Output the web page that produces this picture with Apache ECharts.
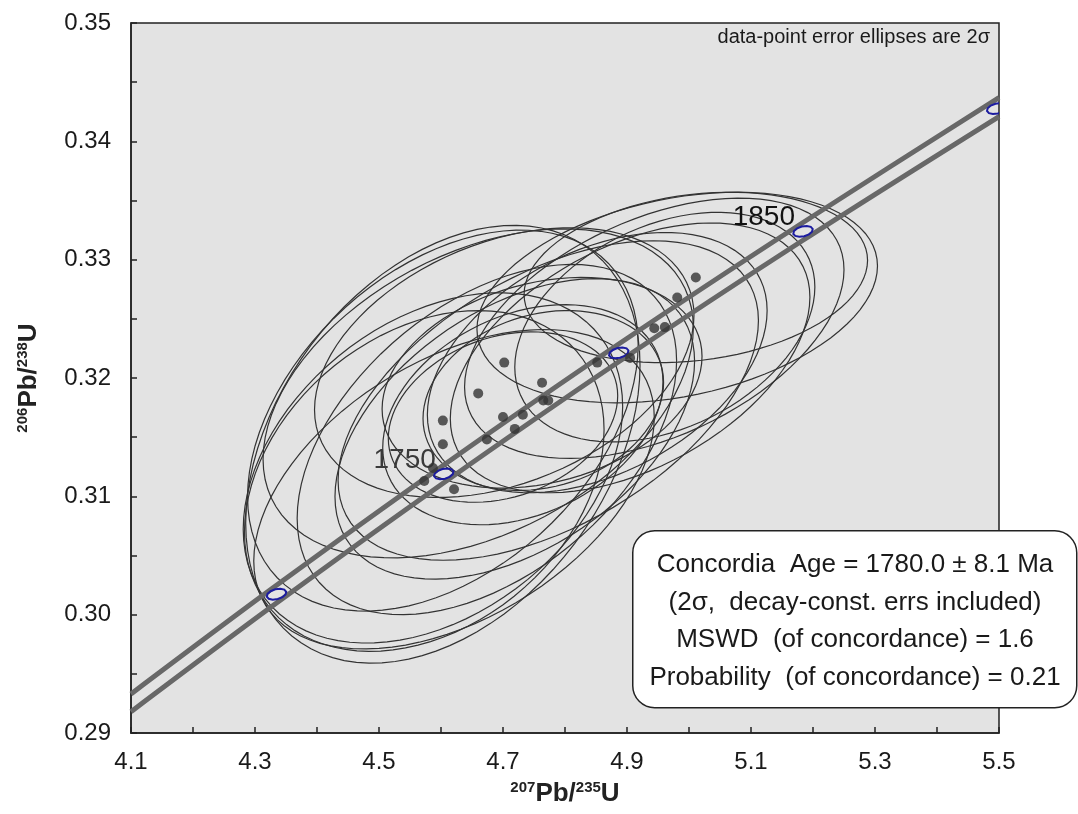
<!DOCTYPE html>
<html><head><meta charset="utf-8">
<script src="https://cdn.jsdelivr.net/npm/echarts@6/dist/echarts.min.js"></script>
<style>html,body{margin:0;padding:0;background:#fff}#c{width:1078px;height:814px}</style>
</head><body><div id="c"></div>
<script>
// Data-point centres (207Pb/235U, 206Pb/238U)
const dotX = [4.702,4.660,4.603,4.603,4.587,4.573,4.621,4.674,4.700,4.719,4.732,4.763,4.765,4.773,4.852,4.905,4.944,4.961,4.981,5.011];
const dotY = [0.3213,0.3187,0.3164,0.3144,0.3124,0.3113,0.3106,0.3148,0.3167,0.3157,0.3169,0.3196,0.3181,0.3181,0.3213,0.3217,0.3242,0.3243,0.3268,0.3285];
// 2-sigma errors and error correlation
const errX = [0.306,0.347,0.315,0.318,0.306,0.290,0.323,0.306,0.185,0.290,0.226,0.258,0.194,0.339,0.274,0.290,0.306,0.242,0.323,0.277];
const errY = [0.0114,0.0139,0.0161,0.0185,0.0148,0.0144,0.0135,0.0148,0.0072,0.0127,0.0093,0.0089,0.0076,0.0135,0.0110,0.0114,0.0110,0.0097,0.0089,0.0072];
const rho  = [0.35,0.40,0.40,0.36,0.35,0.30,0.45,0.45,0.25,0.45,0.30,0.25,0.20,0.50,0.40,0.45,0.45,0.35,0.30,0.20];
// Concordia age markers
const ageLabels = [1700,1750,1800,1850,1900];
const ageX = [4.3347,4.6045,4.8867,5.1839,5.4963];
const ageY = [0.30173,0.3119,0.32212,0.33239,0.34277];
const labelledAges = [1750,1850];
// Concordia band (decay-constant error envelope)
const bandX = [4.1,4.3347,4.6045,4.8867,5.1839,5.5];
const bandUpperY = [0.2933,0.30248,0.31265,0.32287,0.33314,0.34369];
const bandLowerY = [0.2918,0.30098,0.31115,0.32137,0.33164,0.34209];
// Axis ticks
const xMin = 4.1, xMax = 5.5, xStep = 0.1;
const yMin = 0.29, yMax = 0.35, yStep = 0.005;
const statsLines = [
  'Concordia  Age = 1780.0 \u00B1 8.1 Ma',
  '(2\u03C3,  decay-const. errs included)',
  'MSWD  (of concordance) = 1.6',
  'Probability  (of concordance) = 0.21'
];
const noteText = 'data-point error ellipses are 2\u03C3';

const FONT = '"Liberation Sans", Arial, sans-serif';
const chart = echarts.init(document.getElementById('c'), null, {renderer:'canvas'});

const ellipseData = dotX.map((x,i)=>[x,dotY[i],errX[i],errY[i],rho[i]]);
const bandUpper = bandX.map((x,i)=>[x,bandUpperY[i]]);
const bandLower = bandX.map((x,i)=>[x,bandLowerY[i]]);
const ages = ageX.map((x,i)=>[x,ageY[i],ageLabels[i]]);

const axisLabelStyle = {color:'#1a1a1a', fontSize:24, fontFamily:FONT};
const nameRich = {
  sup:{fontSize:15, fontWeight:'bold', fontFamily:FONT, color:'#222', verticalAlign:'top', lineHeight:28},
  main:{fontSize:26, fontWeight:'bold', fontFamily:FONT, color:'#222', lineHeight:28}
};

chart.setOption({
  animation:false,
  grid:{left:131, right:79, top:23, bottom:81, show:true, backgroundColor:'#e3e3e3', borderColor:'#222', borderWidth:1.5},
  xAxis:{type:'value', min:xMin, max:xMax, interval:xStep,
    axisLine:{show:true, lineStyle:{color:'#222', width:1.5}},
    axisTick:{show:true, inside:true, length:6, lineStyle:{color:'#222', width:1.5}},
    splitLine:{show:false},
    axisLabel:{...axisLabelStyle, margin:17, formatter:v=>{const k=Math.round(v*10); return k%2===1? v.toFixed(1):'';}},
    name:'{sup|207}{main|Pb/}{sup|235}{main|U}', nameLocation:'middle', nameGap:47,
    nameTextStyle:{rich:nameRich}
  },
  yAxis:{type:'value', min:yMin, max:yMax, interval:yStep,
    axisLine:{show:true, lineStyle:{color:'#222', width:1.5}},
    axisTick:{show:true, inside:true, length:6, lineStyle:{color:'#222', width:1.5}},
    splitLine:{show:false},
    axisLabel:{...axisLabelStyle, margin:20, formatter:v=>{const k=Math.round(v*1000); return k%10===0? v.toFixed(2):'';}},
    name:'{sup|206}{main|Pb/}{sup|238}{main|U}', nameLocation:'middle', nameGap:88, nameRotate:90,
    nameTextStyle:{rich:nameRich}
  },
  series:[
    {type:'custom', name:'ellipses', clip:true, data:ellipseData, z:2,
      renderItem:(params, api)=>{
        const x0=api.value(0), y0=api.value(1), sx=api.value(2), sy=api.value(3), r=api.value(4);
        const pts=[]; const n=90; const q=Math.sqrt(1-r*r);
        for(let k=0;k<n;k++){const t=2*Math.PI*k/n;
          pts.push(api.coord([x0+sx*Math.cos(t), y0+sy*(r*Math.cos(t)+q*Math.sin(t))]));}
        return {type:'polygon', shape:{points:pts}, style:{fill:null, stroke:'#333', lineWidth:1.2}};
      }},
    {type:'line', data:bandUpper, showSymbol:false, smooth:0.3, clip:true, z:3, lineStyle:{color:'#686868', width:5}},
    {type:'line', data:bandLower, showSymbol:false, smooth:0.3, clip:true, z:3, lineStyle:{color:'#686868', width:5}},
    {type:'custom', name:'ages', clip:true, data:ages, z:4,
      renderItem:(params, api)=>{
        const c=api.coord([api.value(0), api.value(1)]);
        const age=api.value(2);
        const pts=[]; const n=12; const rot=-0.25;
        for(let k=0;k<n;k++){const t=2*Math.PI*k/n; const ex=10*Math.cos(t), ey=5*Math.sin(t);
          pts.push([c[0]+ex*Math.cos(rot)-ey*Math.sin(rot), c[1]+ex*Math.sin(rot)+ey*Math.cos(rot)]);}
        const children=[{type:'polygon', shape:{points:pts}, style:{fill:null, stroke:'#1c1ca0', lineWidth:2}}];
        if(labelledAges.indexOf(age)>=0){
          children.push({type:'text', x:c[0]-8, y:c[1]-14, style:{text:String(age), fontSize:28, fontFamily:FONT,
            fill: age===1750?'#3a3a3a':'#111', align:'right', verticalAlign:'middle'}});
        }
        return {type:'group', children};
      }},
    {type:'scatter', data:dotX.map((x,i)=>[x,dotY[i]]), symbolSize:10, itemStyle:{color:'#333'}, z:6}
  ],
  graphic:[
    {type:'text', right:88, top:27, style:{text:noteText, fontSize:20, fontFamily:FONT, fill:'#1a1a1a'}},
    {type:'rect', left:632, top:530, shape:{width:444, height:177, r:22}, style:{fill:'#fff', stroke:'#222', lineWidth:1.5}, z:100},
    ...statsLines.map((t,i)=>({type:'text', x:855, y:565+i*37.5, z:101,
      style:{text:t, fontSize:26, fontFamily:FONT, fill:'#1a1a1a', align:'center', verticalAlign:'middle'}}))
  ]
});
</script></body></html>
